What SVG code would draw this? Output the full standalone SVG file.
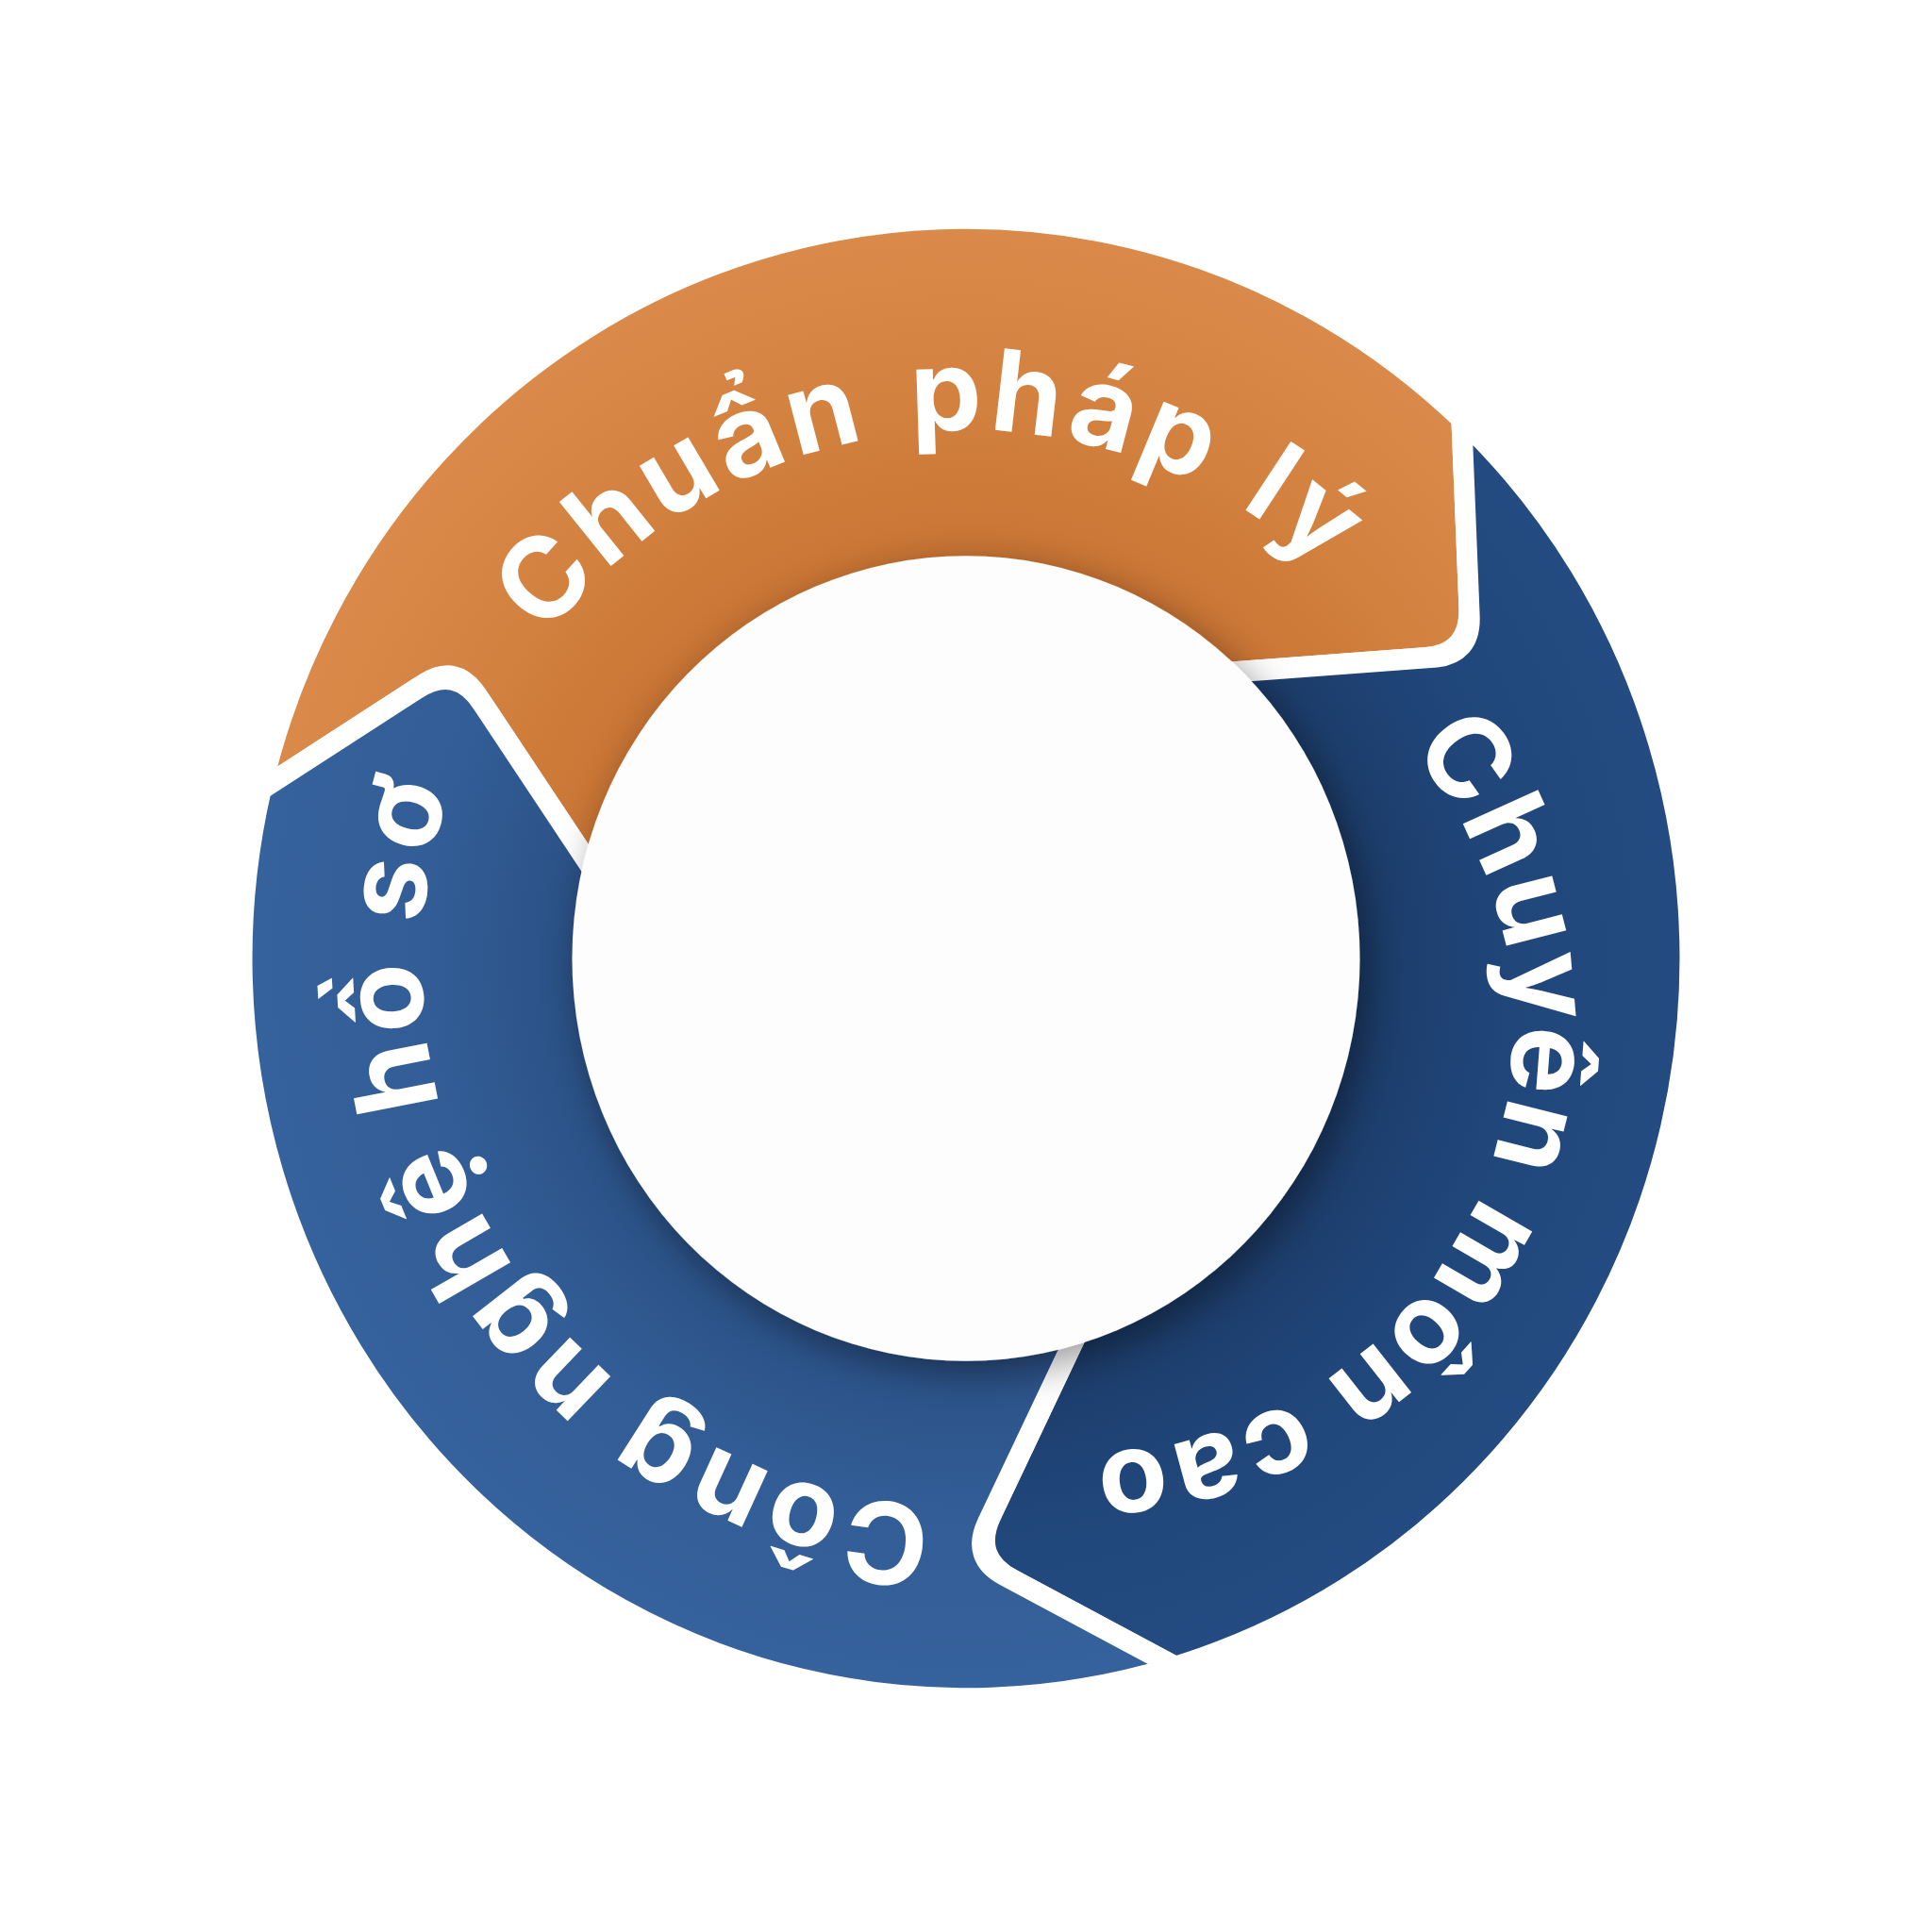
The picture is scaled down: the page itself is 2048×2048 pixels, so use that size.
<svg xmlns="http://www.w3.org/2000/svg" width="2048" height="2048" viewBox="0 0 2048 2048">
  <style>
    .seg { stroke: #FFFFFF; stroke-width: 22; stroke-linejoin: round; }
    .lbl { font-family: Inter, "Noto Sans", "Liberation Sans", sans-serif; font-weight: 700; font-size: 120px; fill: #FFFFFF; }
  </style>
  <defs>
    <radialGradient id="gOrange" gradientUnits="userSpaceOnUse" cx="1024" cy="1016" r="772">
      <stop offset="0.52" stop-color="#C87333"/>
      <stop offset="0.75" stop-color="#D3813F"/>
      <stop offset="1" stop-color="#DA8A4A"/>
    </radialGradient>
    <radialGradient id="gDark" gradientUnits="userSpaceOnUse" cx="1024" cy="1016" r="772">
      <stop offset="0.52" stop-color="#1B3A66"/>
      <stop offset="0.75" stop-color="#20467A"/>
      <stop offset="1" stop-color="#244C82"/>
    </radialGradient>
    <radialGradient id="gLight" gradientUnits="userSpaceOnUse" cx="1024" cy="1016" r="772">
      <stop offset="0.52" stop-color="#2A5085"/>
      <stop offset="0.75" stop-color="#325D96"/>
      <stop offset="1" stop-color="#36629D"/>
    </radialGradient>
    <filter id="shadow" x="-30%" y="-30%" width="160%" height="160%">
      <feDropShadow dx="8" dy="12" stdDeviation="20" flood-color="#000000" flood-opacity="0.4"/>
    </filter>
    <path id="segShape" d="M 272.4 839.7 A 772 772 0 0 1 1552.5 453.2 L 1560.5 648.8 Q 1562.5 698.8 1512.6 702.4 L 1292.8 718.5 A 401 401 0 0 0 631.9 932.1 L 502.5 741.3 Q 480.0 708.2 446.2 729.6 Z"/>
    <path id="tp1" d="M 464 1016 A 560 560 0 0 1 1584 1016 A 560 560 0 0 1 464 1016 A 560 560 0 0 1 1584 1016 A 560 560 0 0 1 464 1016"/>
    <path id="tp2" d="M 700 1088 A 452 452 0 0 1 1604 1088 A 452 452 0 0 1 700 1088 A 452 452 0 0 1 1604 1088 A 452 452 0 0 1 700 1088"/>
    <path id="tp3" d="M 447 1021 A 577 577 0 0 1 1601 1021 A 577 577 0 0 1 447 1021 A 577 577 0 0 1 1601 1021 A 577 577 0 0 1 447 1021"/>
  </defs>

  <g id="connectors"></g>

  <g id="node-chuan-phap-ly">
    <g transform="matrix(0.994 0 0 1.016 6.144 -16.256)">
      <use href="#segShape" class="seg" fill="url(#gOrange)"/>
    </g>
    <text class="lbl" text-anchor="middle" letter-spacing="6" word-spacing="9"><textPath href="#tp1" startOffset="834">Chuẩn pháp lý</textPath></text>
  </g>

  <g id="node-chuyen-mon-cao">
    <g transform="matrix(0.994 0 0 1.016 6.144 -16.256)">
      <use href="#segShape" class="seg" fill="url(#gDark)" transform="rotate(120 1024 1016)"/>
    </g>
    <text class="lbl" text-anchor="middle" letter-spacing="3"><textPath href="#tp2" startOffset="1610">Chuyên môn cao</textPath></text>
  </g>

  <g id="node-cong-nghe-ho-so">
    <g transform="matrix(0.994 0 0 1.016 6.144 -16.256)">
      <use href="#segShape" class="seg" fill="url(#gLight)" transform="rotate(240 1024 1016)"/>
    </g>
    <text class="lbl" text-anchor="middle" letter-spacing="5.3"><textPath href="#tp3" startOffset="3285">Công nghệ hồ sơ</textPath></text>
  </g>

  <g id="node-center">
    <ellipse cx="1024" cy="1016" rx="417.5" ry="426.7" fill="#FDFDFD" filter="url(#shadow)"/>
  </g>
</svg>
